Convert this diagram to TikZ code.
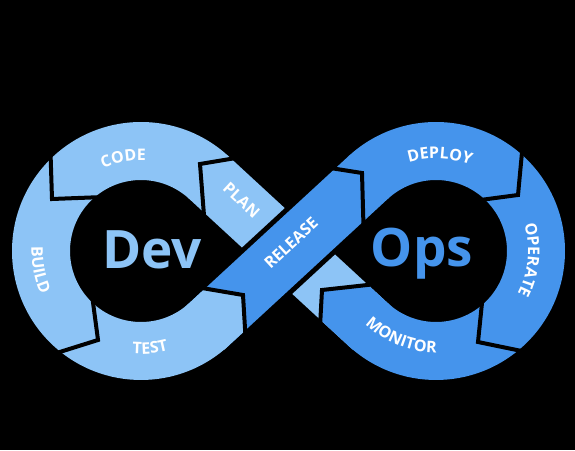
\documentclass[tikz,border=0pt]{standalone}
\usepackage{fontspec}
\setmainfont{Open Sans}
\usetikzlibrary{calc,decorations.text}
\definecolor{lightb}{RGB}{141,196,246}
\definecolor{darkb}{RGB}{69,148,236}
\newcommand\lblfont{\fontsize{16}{16}\selectfont\bfseries}
\begin{document}
\begin{tikzpicture}[x=1pt,y=1pt,
  sep/.style={draw=black,line width=4pt,line join=miter,line cap=butt},
  arclbl/.style={decorate,decoration={text along path,text align=center,text color=white,text={|\lblfont|#1}}},
  biglbl/.style={font=\fontsize{53}{53}\selectfont\bfseries,anchor=base,inner sep=0pt},
  strlbl/.style={font=\lblfont,text=white,inner sep=0pt}]
\fill[black] (0,0) rectangle (575,450);
\useasboundingbox (0,0) rectangle (575,450);
\coordinate (L) at (141,199);
\coordinate (R) at (436,199);
% rings
\fill[lightb] ($(L)+(47.31:129)$) arc[start angle=47.31,end angle=312.69,radius=129] -- ($(L)+(312.69:71)$) arc[start angle=312.69,end angle=47.31,radius=71] -- cycle;
\fill[darkb] ($(R)+(132.69:129)$) arc[start angle=132.69,end angle=-132.69,radius=129] -- ($(R)+(-132.69:71)$) arc[start angle=-132.69,end angle=132.69,radius=71] -- cycle;
% plan strip
\coordinate (P1) at ($(L)+(47.31:129)+(137.31:1.5)$);
\coordinate (P2) at ($(R)+(227.31:71)+(-42.69:1.5)$);
\coordinate (P3) at ($(R)+(227.31:129)+(-42.69:1.5)$);
\coordinate (P4) at ($(L)+(47.31:71)+(137.31:1.5)$);
\coordinate (P2e) at ($(R)+(227.31:71)+(-42.69:6)$);
\coordinate (P3e) at ($(R)+(227.31:129)+(-42.69:6)$);
\fill[lightb] (P1) -- (P2) -- (P3) -- (P4) -- cycle;
\begin{scope}
\clip (P1) -- (P2e) -- (P3e) -- (P4) -- cycle;
\fill[darkb] (372,165.5) -- (322,160) -- (319,95) -- (380,90) -- (420,150) -- cycle;
\end{scope}
% release strip
\coordinate (W1) at ($(L)+(-47.31:134)$);
\coordinate (W2) at ($(R)+(132.69:66)$);
\coordinate (W3) at ($(R)+(132.69:134)$);
\coordinate (W4) at ($(L)+(-47.31:66)$);
\fill[black] (W1) -- (W2) -- (W3) -- (W4) -- cycle;
\coordinate (Q1) at ($(L)+(-47.31:129)+(222.69:1.5)$);
\coordinate (Q2) at ($(R)+(132.69:71)+(42.69:1.5)$);
\coordinate (Q3) at ($(R)+(132.69:129)+(42.69:1.5)$);
\coordinate (Q4) at ($(L)+(-47.31:71)+(222.69:1.5)$);
\coordinate (Q1e) at ($(L)+(-47.31:129)+(222.69:6)$);
\coordinate (Q4e) at ($(L)+(-47.31:71)+(222.69:6)$);
\fill[darkb] (Q1) -- (Q2) -- (Q3) -- (Q4) -- cycle;
\begin{scope}
\clip (Q1e) -- (Q2) -- (Q3) -- (Q4e) -- cycle;
\fill[lightb] (189,164) -- (243,155) -- (247,80) -- (180,80) -- (150,150) -- cycle;
\end{scope}
% separators
\draw[sep] (50.5,298) -- (52,251) -- (104,253);
\draw[sep] (92.4,152) -- (98,110) -- (55,96.5);
\draw[sep] (242,293) -- (200,286) -- (204.5,228);
\draw[sep] (190,164) -- (243,155) -- (246,105);
\draw[sep] (322,283.3) -- (362,277) -- (363.6,220);
\draw[sep] (522.4,302) -- (518,255) -- (478,249.7);
\draw[sep] (482.5,152) -- (478,108) -- (524,98.5);
\draw[sep] (370,165.3) -- (322,160) -- (319.7,118);
% labels
\path[arclbl=CODE] ($(L)+(140.8:90.5)$) arc[start angle=140.8,end angle=60.8,radius=90.5];
\path[arclbl=BUILD] ($(L)+(150.6:109.5)$) arc[start angle=150.6,end angle=230.6,radius=109.5];
\path[arclbl=TEST] ($(L)+(235.3:103)$) arc[start angle=235.3,end angle=315.3,radius=103];
\path[arclbl=DEPLOY] ($(R)+(127.7:92.3)$) arc[start angle=127.7,end angle=47.7,radius=92.3];
\path[arclbl=OPERATE] ($(R)+(34.5:92)$) arc[start angle=34.5,end angle=-45.5,radius=92];
\path[arclbl=MONITOR] ($(R)+(208:101.7)$) arc[start angle=208,end angle=288,radius=101.7];
\node[strlbl,rotate=-42.69] (plan) at (241.5,250) {PLAN};
\node[strlbl,rotate=42.69] (release) at (291,207) {RELEASE};
\node[biglbl,text=lightb] (dev) at (152,182) {Dev};
\node[biglbl,text=darkb] (ops) at (422,183) {Ops};
\end{tikzpicture}
\end{document}
